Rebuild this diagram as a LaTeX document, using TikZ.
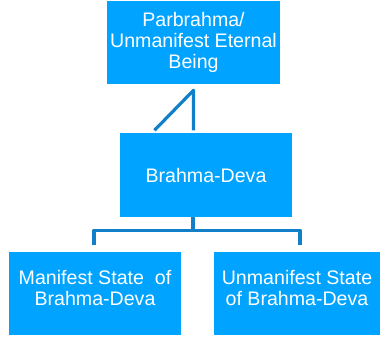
\documentclass[tikz,border=0pt]{standalone}
\usepackage{fontspec}
\setmainfont{Liberation Sans}
\usetikzlibrary{calc}
\definecolor{boxblue}{RGB}{0,163,255}
\definecolor{linkblue}{RGB}{18,128,200}
\begin{document}
\begin{tikzpicture}[x=0.75pt,y=-0.75pt]
	% Styles for boxes and links
	\tikzset{box/.style={fill=boxblue, draw=none, text=white, align=center, inner sep=0pt,
			font=\fontsize{14.7}{15.8}\selectfont},
		link/.style={draw=linkblue, line width=2.4pt, line join=round}}
	\useasboundingbox (0,0) rectangle (381,338);
	
	% Draw the boxes
	\node[box, minimum width=129.75pt, minimum height=62.25pt] (parbrahma) at (193.5,42.5) {Parbrahma/\\Unmanifest Eternal\\Being};
	\node[box, minimum width=129pt, minimum height=63pt] (brahmadeva) at (206,175) {Brahma-Deva};
	\node[box, minimum width=129pt, minimum height=62.25pt, text depth=7.5pt] (manifest) at (95,293) {Manifest State\ \ of\\Brahma-Deva};
	\node[box, minimum width=124.5pt, minimum height=62.25pt, text depth=7.5pt] (unmanifest) at (297,293) {Unmanifest State\\of Brahma-Deva};
	
	% Draw the links
	\draw[link] ($(parbrahma.south)+(-39,46)$) -- ($(parbrahma.south)+(0,6)$) -- ($(parbrahma.south)+(0,46)$);
	\draw[link] ($(brahmadeva.south)+(-13,0)$) -- ++(0,14);
	\draw[link] ($(manifest.north)+(-1,-6)$) |- ($(unmanifest.north)+(3,-21)$) -- ($(unmanifest.north)+(3,-6)$);
	
\end{tikzpicture}
\end{document}
